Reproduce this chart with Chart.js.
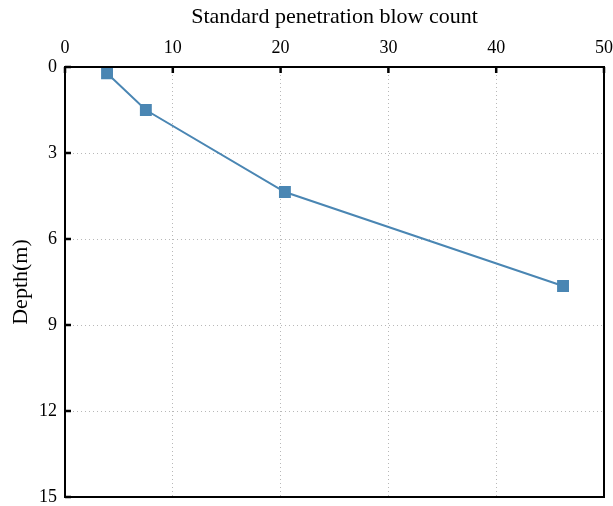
<!DOCTYPE html>
<html><head><meta charset="utf-8">
<script src="https://cdn.jsdelivr.net/npm/chart.js@4/dist/chart.umd.min.js"></script>
<style>html,body{margin:0;padding:0;background:#fff}#wrap{width:613px;height:506px}</style>
</head><body><div id="wrap"><canvas id="c"></canvas></div>
<script>
const blowCount = [3.9, 7.5, 20.4, 46.2];
const depth = [0.22, 1.5, 4.36, 7.64];
const xTicks = [0, 10, 20, 30, 40, 50];
const yTicks = [0, 3, 6, 9, 12, 15];

const frame = {
  id: 'frame',
  afterDraw(chart) {
    const {ctx, chartArea: a, scales} = chart;
    ctx.save();
    ctx.strokeStyle = '#000';
    ctx.lineWidth = 2;
    ctx.strokeRect(a.left, a.top, a.right - a.left, a.bottom - a.top);
    ctx.lineWidth = 2.5;
    ctx.beginPath();
    xTicks.forEach(v => { const px = scales.x.getPixelForValue(v); ctx.moveTo(px, a.top); ctx.lineTo(px, a.top + 6); });
    yTicks.forEach(v => { const py = scales.y.getPixelForValue(v); ctx.moveTo(a.left, py); ctx.lineTo(a.left + 6, py); });
    ctx.stroke();
    ctx.restore();
  }
};

new Chart(document.getElementById('c'), {
  type: 'scatter',
  data: {
    datasets: [{
      data: blowCount.map((x, i) => ({x, y: depth[i]})),
      showLine: true,
      borderColor: '#4a86b3',
      backgroundColor: '#4a86b3',
      borderWidth: 2,
      pointStyle: 'rect',
      pointRadius: 7,
      pointHoverRadius: 7,
      tension: 0
    }]
  },
  options: {
    responsive: true,
    maintainAspectRatio: false,
    animation: false,
    layout: {padding: {left: 0, right: 9, top: 0, bottom: 9}},
    plugins: {legend: {display: false}, tooltip: {enabled: false}},
    scales: {
      x: {
        type: 'linear', position: 'top', min: 0, max: 50,
        afterBuildTicks: s => { s.ticks = xTicks.map(v => ({value: v})); },
        afterFit: s => { s.height = 67; s.paddingLeft = 0; s.paddingRight = 0; },
        ticks: {font: {family: 'Liberation Serif', size: 18}, color: '#000', padding: 8, maxRotation: 0},
        grid: {color: '#b8b8b8', lineWidth: 1, drawTicks: false},
        border: {display: false, dash: [1, 3]},
        title: {display: true, text: 'Standard penetration blow count', font: {family: 'Liberation Serif', size: 22}, color: '#000', padding: {top: 4, bottom: 6}}
      },
      y: {
        type: 'linear', reverse: true, min: 0, max: 15,
        afterBuildTicks: s => { s.ticks = yTicks.map(v => ({value: v})); },
        afterFit: s => { s.width = 65; s.paddingTop = 0; s.paddingBottom = 0; },
        ticks: {font: {family: 'Liberation Serif', size: 18}, color: '#000', padding: 8},
        grid: {color: '#b8b8b8', lineWidth: 1, drawTicks: false},
        border: {display: false, dash: [1, 3]},
        title: {display: true, text: 'Depth(m)', font: {family: 'Liberation Serif', size: 22}, color: '#000', padding: {top: 8, bottom: 4}}
      }
    }
  },
  plugins: [frame]
});
</script></body></html>
